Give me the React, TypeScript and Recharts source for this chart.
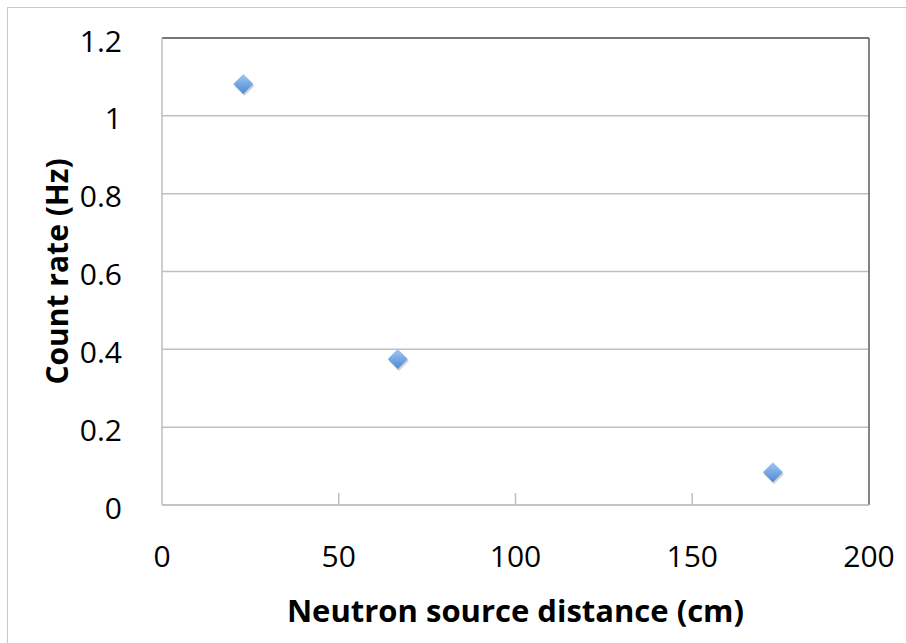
import React from 'react';
import { ScatterChart, Scatter, XAxis, YAxis, CartesianGrid, ReferenceLine } from 'recharts';

const distances = [23, 66.7, 172.8];
const rates = [1.082, 0.375, 0.084];
const xTicks = [0, 50, 100, 150, 200];
const yTicks = [0, 0.2, 0.4, 0.6, 0.8, 1, 1.2];
const yTickLabels = ['0', '0.2', '0.4', '0.6', '0.8', '1', '1.2'];

const data = distances.map((d, i) => ({ x: d, y: rates[i] }));

const FONT = '"Open Sans", Lato, sans-serif';

const XTick = (props: any) => {
  const { x, y, payload } = props;
  const v = payload.value;
  return (
    <g>
      {v !== 0 && v !== 200 && <line x1={x} x2={x} y1={y} y2={y - 12} stroke="#bfbfbf" strokeWidth={1.5} />}
      <text x={x} y={y + 62} textAnchor="middle" fontSize={30} fontFamily={FONT} fill="#000">
        {v}
      </text>
    </g>
  );
};

const Diamond = (props: any) => {
  const { cx, cy } = props;
  const r = 10;
  const pts = (dx: number, dy: number) =>
    `${cx + dx},${cy + dy - r} ${cx + dx + r},${cy + dy} ${cx + dx},${cy + dy + r} ${cx + dx - r},${cy + dy}`;
  return (
    <g>
      <polygon points={pts(1, 2)} fill="#000" opacity={0.18} />
      <polygon points={pts(0, 0)} fill="url(#diamondFill)" />
    </g>
  );
};

export default function App() {
  return (
    <div style={{ position: 'absolute', left: 0, top: 0, width: 906, height: 643, background: '#fff' }}>
      <div
        style={{
          position: 'absolute',
          left: 7,
          top: 7,
          right: -2,
          bottom: -2,
          borderLeft: '1.5px solid #c8c8c8',
          borderTop: '1.5px solid #c8c8c8',
        }}
      />
      <ScatterChart width={906} height={643} margin={{ top: 38, right: 37, left: 0, bottom: 0 }} style={{ position: 'absolute', left: 0, top: 0 }}>
        <defs>
          <linearGradient id="diamondFill" x1="0" y1="0" x2="0" y2="1">
            <stop offset="0%" stopColor="#a3c8f2" />
            <stop offset="100%" stopColor="#4a88d6" />
          </linearGradient>
        </defs>
        <CartesianGrid vertical={false} stroke="#bfbfbf" strokeWidth={1.5} />
        <XAxis
          type="number"
          dataKey="x"
          domain={[0, 200]}
          ticks={xTicks}
          height={138}
          tickLine={false}
          tickSize={0}
          tickMargin={0}
          tick={<XTick />}
          axisLine={{ stroke: '#bfbfbf', strokeWidth: 1.5 }}
          label={{
            value: 'Neutron source distance (cm)',
            position: 'insideBottom',
            offset: 21,
            style: { fontSize: 31, fontWeight: 700, fontFamily: FONT, fill: '#000' },
          }}
        />
        <YAxis
          type="number"
          dataKey="y"
          domain={[0, 1.2]}
          ticks={yTicks}
          width={162}
          tickLine={false}
          tickMargin={34}
          tickFormatter={(v: number) => yTickLabels[yTicks.indexOf(v)] ?? String(v)}
          tick={{ fontSize: 30, fontFamily: FONT, fill: '#000', dy: 3 }}
          axisLine={{ stroke: '#bfbfbf', strokeWidth: 1.5 }}
          label={{
            value: 'Count rate (Hz)',
            angle: -90,
            position: 'insideLeft',
            offset: 57,
            style: { fontSize: 30, fontWeight: 700, fontFamily: FONT, fill: '#000', textAnchor: 'middle' },
          }}
        />
        <ReferenceLine y={1.2} stroke="#5a5a5a" strokeWidth={1.5} />
        <ReferenceLine x={200} stroke="#5a5a5a" strokeWidth={1.5} />
        <Scatter data={data} shape={<Diamond />} isAnimationActive={false} />
      </ScatterChart>
    </div>
  );
}
